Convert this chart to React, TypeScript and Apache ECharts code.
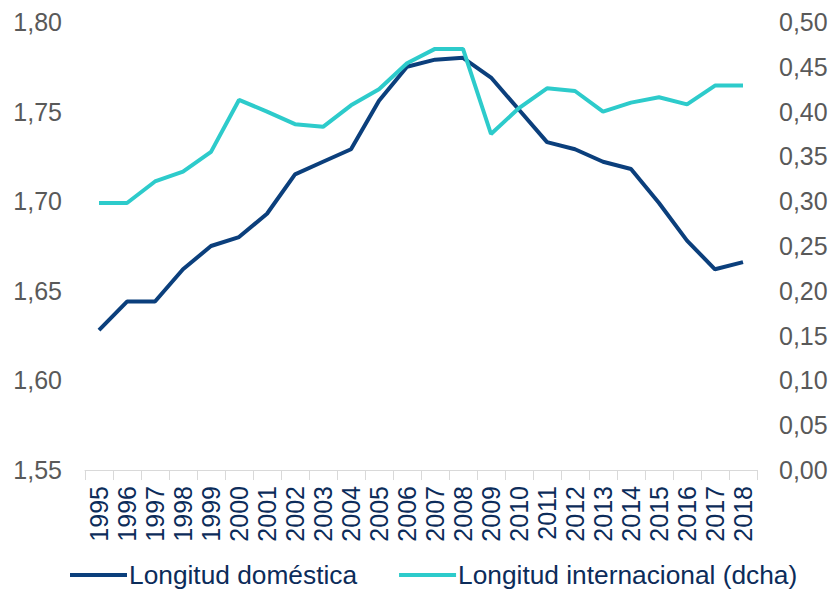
import React, { useEffect, useRef } from "react";
import * as echarts from "echarts";

const years = ["1995","1996","1997","1998","1999","2000","2001","2002","2003","2004","2005","2006","2007","2008","2009","2010","2011","2012","2013","2014","2015","2016","2017","2018"];
const domestic = [1.628,1.644,1.644,1.662,1.675,1.680,1.693,1.715,1.722,1.729,1.756,1.775,1.779,1.780,1.769,1.751,1.733,1.729,1.722,1.718,1.699,1.678,1.662,1.666];
const international = [0.298,0.298,0.322,0.333,0.355,0.413,0.400,0.386,0.383,0.407,0.425,0.454,0.470,0.470,0.375,0.404,0.426,0.423,0.400,0.410,0.416,0.408,0.429,0.429];
const seriesNames = ["Longitud doméstica", "Longitud internacional (dcha)"];

const NAVY = "#0b3f7c";
const CYAN = "#2dcbcb";
const FONT = "'Liberation Sans', Arial, sans-serif";

const fmt = (v: number) => v.toFixed(2).replace(".", ",");

export default function App() {
  const ref = useRef<HTMLDivElement>(null);
  useEffect(() => {
    document.body.style.margin = "0";
    const chart = echarts.init(ref.current!, null, { renderer: "svg" });
    chart.setOption({
      animation: false,
      textStyle: { fontFamily: FONT },
      grid: { left: 85, right: 79, top: 22, bottom: 121, containLabel: false },
      legend: {
        bottom: -2,
        left: 65,
        itemWidth: 57,
        itemHeight: 4,
        itemGap: 42,
        icon: "rect",
        textStyle: { fontSize: 26.3, color: "#0c2c5a", fontFamily: FONT, padding: [0, 0, 0, -3] },
        data: seriesNames,
      },
      xAxis: {
        type: "category",
        data: years,
        boundaryGap: true,
        axisLine: { lineStyle: { color: "#d9d9d9", width: 1 } },
        axisTick: { show: true, alignWithLabel: false, length: 10, lineStyle: { color: "#d9d9d9" } },
        axisLabel: { rotate: 90, interval: 0, fontSize: 25, color: "#0c2c5a", margin: 16, fontFamily: FONT },
      },
      yAxis: [
        {
          type: "value",
          min: 1.55,
          max: 1.8,
          interval: 0.05,
          splitLine: { show: false },
          axisLine: { show: false },
          axisTick: { show: false },
          axisLabel: { fontSize: 25, color: "#595959", margin: 23, formatter: fmt, fontFamily: FONT },
        },
        {
          type: "value",
          min: 0,
          max: 0.5,
          interval: 0.05,
          splitLine: { show: false },
          axisLine: { show: false },
          axisTick: { show: false },
          axisLabel: { fontSize: 25, color: "#595959", margin: 22, formatter: fmt, fontFamily: FONT },
        },
      ],
      series: [
        {
          name: seriesNames[0],
          type: "line",
          yAxisIndex: 0,
          data: domestic,
          symbol: "none",
          lineStyle: { color: NAVY, width: 4 },
          itemStyle: { color: NAVY },
        },
        {
          name: seriesNames[1],
          type: "line",
          yAxisIndex: 1,
          data: international,
          symbol: "none",
          lineStyle: { color: CYAN, width: 4 },
          itemStyle: { color: CYAN },
        },
      ],
    });
    return () => chart.dispose();
  }, []);
  return <div ref={ref} style={{ width: 836, height: 591 }} />;
}
